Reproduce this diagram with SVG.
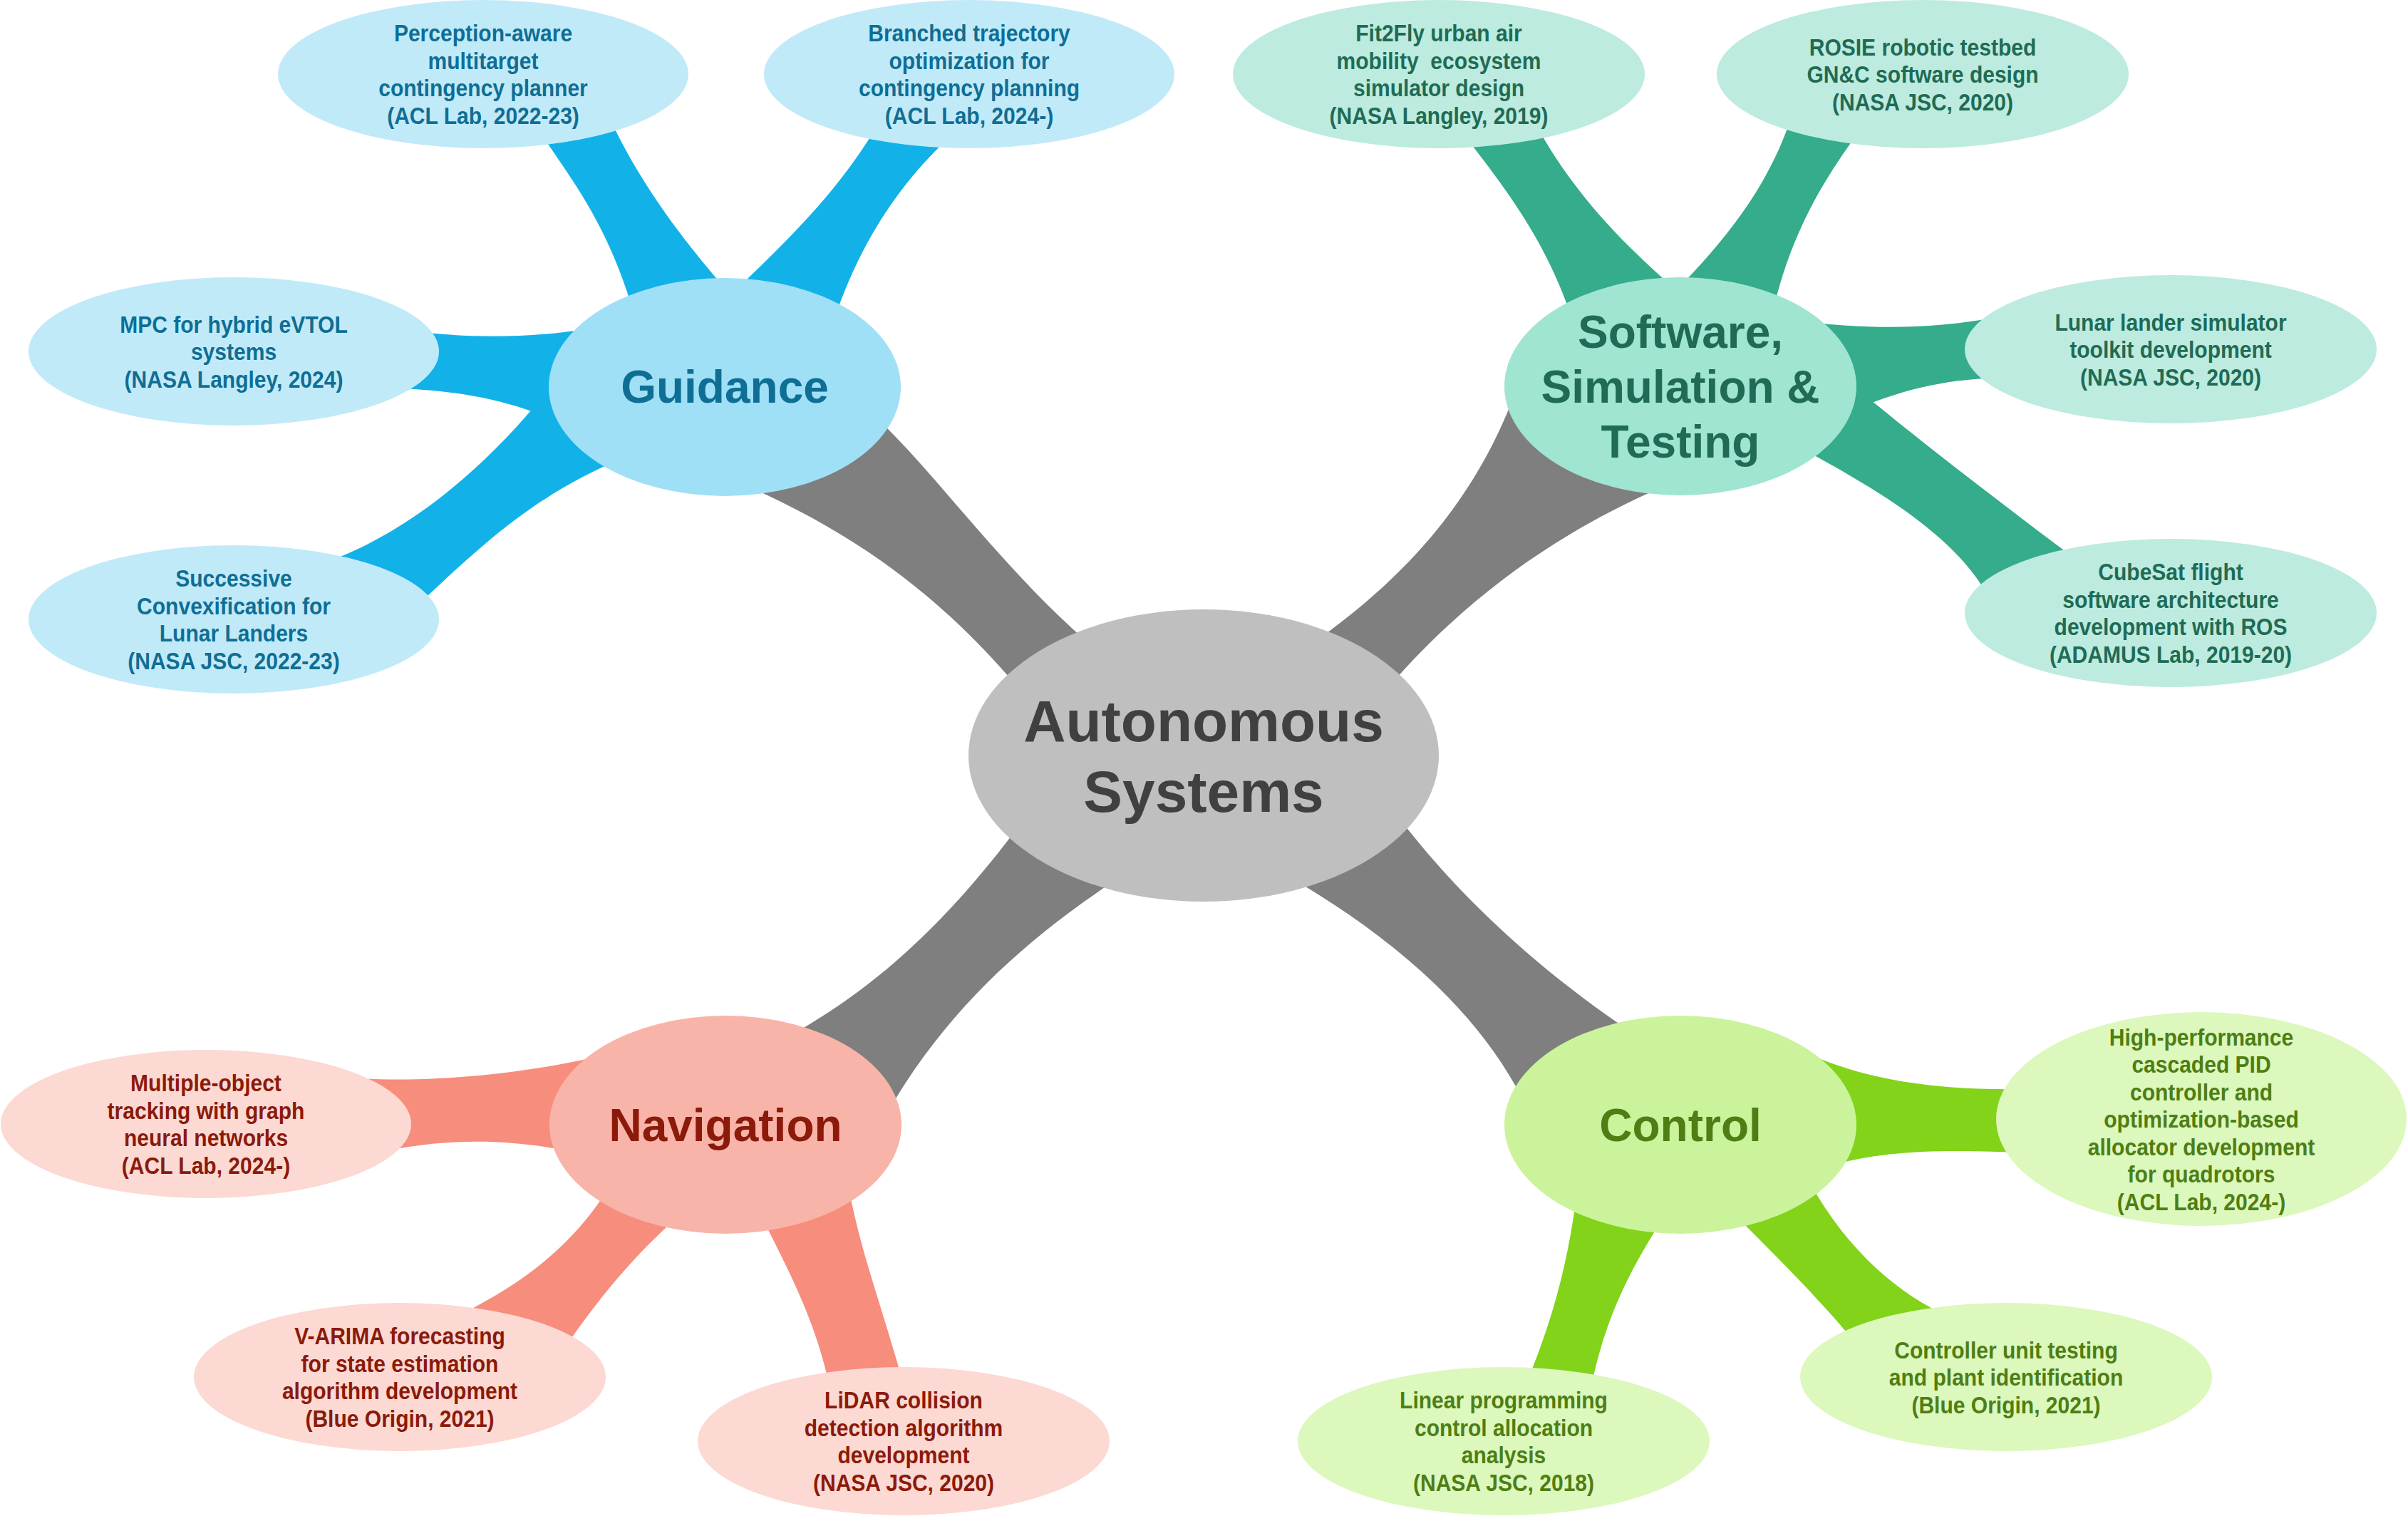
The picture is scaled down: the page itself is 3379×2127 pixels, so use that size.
<svg xmlns="http://www.w3.org/2000/svg" width="3379" height="2127" viewBox="0 0 3379 2127">
<style>
.lt{font-family:"Liberation Sans",Arial,sans-serif;font-weight:700;font-size:33px;text-anchor:middle}
.ht{font-family:"Liberation Sans",Arial,sans-serif;font-weight:700;font-size:64px;text-anchor:middle}
.ct{font-family:"Liberation Sans",Arial,sans-serif;font-weight:700;font-size:82px;text-anchor:middle;fill:#404040}
.gray{fill:#7F7F7F}
.gb{fill:#12B2E9}.gn{fill:#A0E0F7}.gl{fill:#C1EAF9}.gt{fill:#0F6E94}
.sb{fill:#35AC8B}.sn{fill:#A0E4D2}.sl{fill:#BDEBDF}.st{fill:#1F6B55}
.nb{fill:#F78D7D}.nn{fill:#F8B4A8}.nl{fill:#FCD9D3}.nt{fill:#8B1A0A}
.cb{fill:#82D31A}.cn{fill:#CBF39B}.cl{fill:#DCF8BC}.ctx{fill:#4E7E14}
</style>
<rect x="0" y="0" width="3379" height="2127" fill="#FFFFFF"/>
<g id="connectors">
  <path class="gray" d="M1200,560 C1300,640 1400,800 1560,930 L1450,990 C1360,880 1240,760 1020,670 Z"/>
  <path class="gray" d="M1810,925 C1920,850 2060,740 2130,540 L2340,680 C2200,740 2060,830 1935,980 Z"/>
  <path class="gray" d="M1070,1475 C1170,1420 1290,1350 1440,1145 L1580,1225 C1450,1310 1330,1410 1240,1570 Z"/>
  <path class="gray" d="M1800,1225 C1930,1300 2080,1410 2150,1570 L2300,1455 C2200,1390 2060,1280 1950,1130 Z"/>
  <path class="gb" d="M745,165 C790,240 860,310 900,480 L1040,430 C950,330 895,250 855,165 Z"/>
  <path class="gb" d="M1030,410 C1090,350 1170,280 1235,170 L1335,190 C1270,250 1210,330 1170,450 Z"/>
  <path class="gb" d="M560,462 C650,475 740,475 820,462 L800,600 C720,560 640,548 560,545 Z"/>
  <path class="gb" d="M440,795 C580,750 700,640 790,520 L880,640 C760,690 690,750 580,855 Z"/>
  <path class="sb" d="M2040,170 C2100,250 2170,330 2210,460 L2380,430 C2270,340 2200,260 2150,165 Z"/>
  <path class="sb" d="M2330,430 C2410,350 2480,270 2515,160 L2612,180 C2560,250 2510,330 2485,450 Z"/>
  <path class="sb" d="M2540,452 C2620,462 2720,462 2800,445 L2800,530 C2730,533 2670,545 2590,580 Z"/>
  <path class="sb" d="M2600,540 C2670,600 2800,700 2920,790 L2795,845 C2750,760 2660,700 2520,625 Z"/>
  <path class="nb" d="M470,1510 C560,1520 700,1515 850,1480 L800,1615 C720,1600 640,1595 540,1615 Z"/>
  <path class="nb" d="M630,1852 C740,1800 815,1740 870,1640 L960,1700 C900,1750 840,1820 790,1895 Z"/>
  <path class="nb" d="M1060,1690 C1100,1770 1145,1850 1165,1950 L1270,1950 C1240,1840 1205,1750 1190,1660 Z"/>
  <path class="cb" d="M2540,1480 C2610,1510 2700,1530 2830,1528 L2830,1617 C2720,1612 2640,1615 2570,1635 Z"/>
  <path class="cb" d="M2430,1700 C2490,1760 2560,1830 2600,1880 L2740,1850 C2660,1815 2590,1750 2540,1660 Z"/>
  <path class="cb" d="M2212,1680 C2200,1770 2180,1850 2140,1945 L2232,1950 C2250,1860 2280,1790 2340,1700 Z"/>
</g>
<g id="central">
  <ellipse cx="1689" cy="1060" rx="330" ry="205" fill="#BFBFBF"/>
  <text class="ct"><tspan x="1689" y="1040">Autonomous</tspan><tspan x="1689" y="1139">Systems</tspan></text>
</g>
<g id="guidance">
  <ellipse class="gn" cx="1017" cy="543" rx="247" ry="153"/>
  <text class="ht gt" x="1017" y="565">Guidance</text>
</g>
<g id="g-perception">
  <ellipse class="gl" cx="678" cy="104" rx="288" ry="104"/>
  <text class="lt gt" transform="translate(678,0) scale(0.91,1)"><tspan x="0" y="58">Perception-aware</tspan><tspan x="0" y="97">multitarget</tspan><tspan x="0" y="135">contingency planner</tspan><tspan x="0" y="174">(ACL Lab, 2022-23)</tspan></text>
</g>
<g id="g-branched">
  <ellipse class="gl" cx="1360" cy="104" rx="288" ry="104"/>
  <text class="lt gt" transform="translate(1360,0) scale(0.91,1)"><tspan x="0" y="58">Branched trajectory</tspan><tspan x="0" y="97">optimization for</tspan><tspan x="0" y="135">contingency planning</tspan><tspan x="0" y="174">(ACL Lab, 2024-)</tspan></text>
</g>
<g id="g-mpc">
  <ellipse class="gl" cx="328" cy="493" rx="288" ry="104"/>
  <text class="lt gt" transform="translate(328,0) scale(0.91,1)"><tspan x="0" y="467">MPC for hybrid eVTOL</tspan><tspan x="0" y="505">systems</tspan><tspan x="0" y="544">(NASA Langley, 2024)</tspan></text>
</g>
<g id="g-scvx">
  <ellipse class="gl" cx="328" cy="869" rx="288" ry="104"/>
  <text class="lt gt" transform="translate(328,0) scale(0.91,1)"><tspan x="0" y="823">Successive</tspan><tspan x="0" y="862">Convexification for</tspan><tspan x="0" y="900">Lunar Landers</tspan><tspan x="0" y="939">(NASA JSC, 2022-23)</tspan></text>
</g>
<g id="software">
  <ellipse class="sn" cx="2358" cy="542" rx="247" ry="153"/>
  <text class="ht st"><tspan x="2358" y="488">Software,</tspan><tspan x="2358" y="565">Simulation &amp;</tspan><tspan x="2358" y="642">Testing</tspan></text>
</g>
<g id="s-fit2fly">
  <ellipse class="sl" cx="2019" cy="104" rx="289" ry="104"/>
  <text class="lt st" transform="translate(2019,0) scale(0.91,1)" xml:space="preserve"><tspan x="0" y="58">Fit2Fly urban air</tspan><tspan x="0" y="97">mobility  ecosystem</tspan><tspan x="0" y="135">simulator design</tspan><tspan x="0" y="174">(NASA Langley, 2019)</tspan></text>
</g>
<g id="s-rosie">
  <ellipse class="sl" cx="2698" cy="104" rx="289" ry="104"/>
  <text class="lt st" transform="translate(2698,0) scale(0.91,1)"><tspan x="0" y="78">ROSIE robotic testbed</tspan><tspan x="0" y="116">GN&amp;C software design</tspan><tspan x="0" y="155">(NASA JSC, 2020)</tspan></text>
</g>
<g id="s-lunar">
  <ellipse class="sl" cx="3046" cy="490" rx="289" ry="104"/>
  <text class="lt st" transform="translate(3046,0) scale(0.91,1)"><tspan x="0" y="464">Lunar lander simulator</tspan><tspan x="0" y="502">toolkit development</tspan><tspan x="0" y="541">(NASA JSC, 2020)</tspan></text>
</g>
<g id="s-cubesat">
  <ellipse class="sl" cx="3046" cy="860" rx="289" ry="104"/>
  <text class="lt st" transform="translate(3046,0) scale(0.91,1)"><tspan x="0" y="814">CubeSat flight</tspan><tspan x="0" y="853">software architecture</tspan><tspan x="0" y="891">development with ROS</tspan><tspan x="0" y="930">(ADAMUS Lab, 2019-20)</tspan></text>
</g>
<g id="navigation">
  <ellipse class="nn" cx="1018" cy="1578" rx="247" ry="153"/>
  <text class="ht nt" x="1018" y="1601">Navigation</text>
</g>
<g id="n-mot">
  <ellipse class="nl" cx="289" cy="1577" rx="288" ry="104"/>
  <text class="lt nt" transform="translate(289,0) scale(0.91,1)"><tspan x="0" y="1531">Multiple-object</tspan><tspan x="0" y="1570">tracking with graph</tspan><tspan x="0" y="1608">neural networks</tspan><tspan x="0" y="1647">(ACL Lab, 2024-)</tspan></text>
</g>
<g id="n-varima">
  <ellipse class="nl" cx="561" cy="1932" rx="289" ry="104"/>
  <text class="lt nt" transform="translate(561,0) scale(0.91,1)"><tspan x="0" y="1886">V-ARIMA forecasting</tspan><tspan x="0" y="1925">for state estimation</tspan><tspan x="0" y="1963">algorithm development</tspan><tspan x="0" y="2002">(Blue Origin, 2021)</tspan></text>
</g>
<g id="n-lidar">
  <ellipse class="nl" cx="1268" cy="2022" rx="289" ry="104"/>
  <text class="lt nt" transform="translate(1268,0) scale(0.91,1)"><tspan x="0" y="1976">LiDAR collision</tspan><tspan x="0" y="2015">detection algorithm</tspan><tspan x="0" y="2053">development</tspan><tspan x="0" y="2092">(NASA JSC, 2020)</tspan></text>
</g>
<g id="control">
  <ellipse class="cn" cx="2358" cy="1578" rx="247" ry="153"/>
  <text class="ht ctx" x="2358" y="1601">Control</text>
</g>
<g id="c-pid">
  <ellipse class="cl" cx="3089" cy="1570" rx="288" ry="150"/>
  <text class="lt ctx" transform="translate(3089,0) scale(0.91,1)"><tspan x="0" y="1467">High-performance</tspan><tspan x="0" y="1505">cascaded PID</tspan><tspan x="0" y="1544">controller and</tspan><tspan x="0" y="1582">optimization-based</tspan><tspan x="0" y="1621">allocator development</tspan><tspan x="0" y="1659">for quadrotors</tspan><tspan x="0" y="1698">(ACL Lab, 2024-)</tspan></text>
</g>
<g id="c-unit">
  <ellipse class="cl" cx="2815" cy="1932" rx="289" ry="104"/>
  <text class="lt ctx" transform="translate(2815,0) scale(0.91,1)"><tspan x="0" y="1906">Controller unit testing</tspan><tspan x="0" y="1944">and plant identification</tspan><tspan x="0" y="1983">(Blue Origin, 2021)</tspan></text>
</g>
<g id="c-lp">
  <ellipse class="cl" cx="2110" cy="2022" rx="289" ry="104"/>
  <text class="lt ctx" transform="translate(2110,0) scale(0.91,1)"><tspan x="0" y="1976">Linear programming</tspan><tspan x="0" y="2015">control allocation</tspan><tspan x="0" y="2053">analysis</tspan><tspan x="0" y="2092">(NASA JSC, 2018)</tspan></text>
</g>
</svg>
